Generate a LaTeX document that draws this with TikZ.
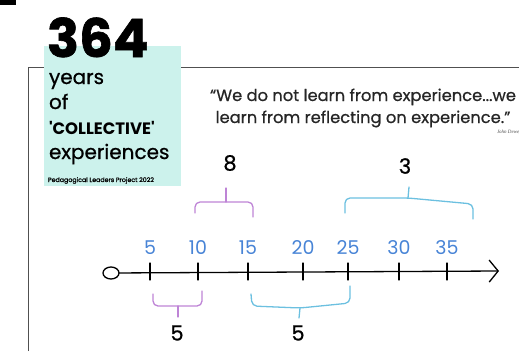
\documentclass[tikz,border=0pt]{standalone}
\usepackage{fontspec}
\setmainfont{Poppins}
\newfontfamily\popmed{Poppins}[FakeBold=0.7]
\newfontfamily\popbold{Poppins Bold}
\newfontfamily\popheavy{Poppins Bold}[FakeBold=1.2]
\newfontfamily\sigfont{Liberation Serif}
\usetikzlibrary{arrows.meta,calc,positioning,shapes.geometric}
\definecolor{boxcyan}{RGB}{204,242,236}
\definecolor{pbrace}{RGB}{190,132,214}
\definecolor{bbrace}{RGB}{108,192,224}
\definecolor{numblue}{RGB}{72,132,214}
\definecolor{framegray}{RGB}{80,80,80}
\tikzset{
  hand/.style={line width=1.3pt,line cap=round,line join=round},
  brace/.style={hand,rounded corners=5pt},
  num/.style={font=\fontsize{19}{19}\selectfont,text=numblue},
  count/.style={font=\fontsize{21}{21}\popmed},
  side/.style={font=\fontsize{20}{20}\popmed,anchor=base west},
  quote/.style={font=\fontsize{16.3}{16.3}\popmed,text=black!85,anchor=base},
}
\begin{document}
\begin{tikzpicture}[x=1pt,y=-1pt,every node/.style={inner sep=0pt,outer sep=0pt}]
\useasboundingbox (0,0) rectangle (519,351);
\fill (0,0) rectangle (16,5);
% frame and title box
\draw[framegray,line width=1pt] (28,351) -- (28,67) -- (519,67);
\fill[boxcyan] (44,46) rectangle (181,186);
\node[anchor=base west,font=\fontsize{53}{53}\popheavy] (total) at (47,57) {364};
\node[side] (years) at (49,84) {years};
\node[side] (of) at (49,109) {of};
\node[side,font=\fontsize{16.5}{16.5}\popbold] (coll) at (49,134) {'COLLECTIVE'};
\node[side] (exp) at (49,159) {experiences};
\node[anchor=base west,font=\fontsize{6.3}{6.3}\popmed] (proj) at (48,182) {Pedagogical Leaders Project 2022};
% quote
\node[quote] (q1) at (363,101) {“We do not learn from experience...we};
\node[quote] (q2) at ($(q1.base)+(0,22)$) {learn from reflecting on experience.”};
\node[anchor=base west,font=\sigfont\itshape\fontsize{5}{5}\selectfont,text=black!70] (sig) at (497,133) {John Dewey};
%
% number line
\node[ellipse,draw,hand,minimum width=16pt,minimum height=12pt] (start) at (111,273) {};
\coordinate (end) at (499,271);
\draw[hand,-{Straight Barb[length=9pt,width=22pt,line width=1.3pt]}] (start) -- (end);
\foreach \v/\x in {5/150,10/198,15/248,20/303,25/348,30/399,35/447}{
  \coordinate (t\v) at (\x,271);
  \draw[hand] ($(t\v)+(0,-8)$) -- ($(t\v)+(0,9)$);
  \node[num] (n\v) at (\x,248) {\v};
}
% braces above
\draw[brace,pbrace] (195,213) -- (195,202) -- (253,202) -- (253,217);
\draw[hand,pbrace] (226,202) -- (226,188);
\node[count] (eight) at (230,163) {8};
\draw[brace,bbrace] (345,213) -- (345,198) -- (408,198) -- (473,204) -- (473,219);
\draw[hand,bbrace] (408,198) -- (409,187);
\node[count] (three) at (405,166) {3};
% braces below
\draw[brace,pbrace] (153,294) -- (153,306) -- (202,306) -- (202,291);
\draw[hand,pbrace] (178,306) -- (178,317);
\node[count] (fiveA) at (177,333) {5};
\draw[brace,bbrace] (251,294) -- (252,306) -- (300,308) -- (350,303) -- (350,286);
\draw[hand,bbrace] (300,308) -- (299,318);
\node[count] (fiveB) at (298,333) {5};
\end{tikzpicture}
\end{document}
